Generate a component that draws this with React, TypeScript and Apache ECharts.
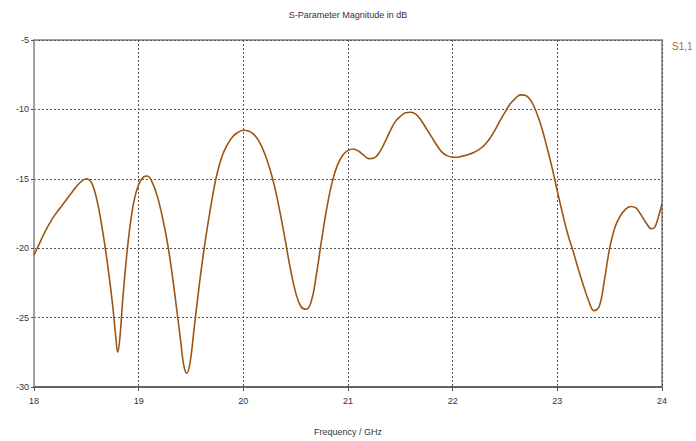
import React, { useEffect, useRef } from "react";
import * as echarts from "echarts";

const freqs = [
  18.0, 18.05, 18.1, 18.15, 18.2, 18.25, 18.3, 18.35, 18.4, 18.45, 18.5, 18.55, 18.6, 18.65, 18.7, 18.75, 18.78, 18.8, 18.82, 18.85, 18.9, 18.95,
  19.0, 19.05, 19.08, 19.12, 19.18, 19.25, 19.3, 19.35, 19.4, 19.43, 19.46, 19.49, 19.53, 19.58, 19.63, 19.7, 19.75, 19.8, 19.85, 19.9, 19.95,
  20.0, 20.05, 20.1, 20.15, 20.2, 20.25, 20.3, 20.35, 20.4, 20.45, 20.5, 20.55, 20.6, 20.65, 20.7, 20.75, 20.8, 20.85, 20.9, 20.95,
  21.0, 21.05, 21.1, 21.15, 21.2, 21.25, 21.3, 21.35, 21.4, 21.45, 21.5, 21.55, 21.6, 21.65, 21.7, 21.75, 21.8, 21.85, 21.9, 21.95,
  22.0, 22.05, 22.1, 22.15, 22.2, 22.25, 22.3, 22.35, 22.4, 22.45, 22.5, 22.55, 22.6, 22.65, 22.7, 22.75, 22.8, 22.85, 22.9, 22.95,
  23.0, 23.05, 23.1, 23.15, 23.2, 23.25, 23.3, 23.35, 23.4, 23.45, 23.5, 23.55, 23.6, 23.65, 23.7, 23.75, 23.8, 23.85, 23.9, 23.93, 23.96, 24.0,
];

const s11 = [
  -20.5, -19.7, -18.9, -18.2, -17.6, -17.1, -16.6, -16.1, -15.6, -15.2, -15.0, -15.3, -16.5, -18.5, -21.0, -24.0, -26.3, -27.5, -26.5, -23.5, -19.5, -16.8,
  -15.4, -14.85, -14.8, -15.1, -16.3, -18.6, -20.8, -23.6, -26.6, -28.4, -29.0, -28.3, -25.8, -22.6, -19.8, -16.5, -14.6, -13.3, -12.5, -11.95, -11.65,
  -11.5, -11.55, -11.8, -12.3, -13.1, -14.2, -15.6, -17.4, -19.4, -21.5, -23.2, -24.2, -24.4, -23.8, -21.8, -19.3, -17.0, -15.2, -14.0, -13.3,
  -12.95, -12.85, -13.0, -13.3, -13.55, -13.5, -13.1, -12.4, -11.6, -10.9, -10.5, -10.25, -10.2, -10.35, -10.8, -11.4, -12.0, -12.6, -13.1, -13.35,
  -13.45, -13.45, -13.35, -13.25, -13.1, -12.9, -12.6, -12.15, -11.55, -10.85, -10.2, -9.6, -9.2, -8.95, -9.0, -9.4, -10.2, -11.3, -12.7, -14.2,
  -15.9, -17.5, -19.0, -20.2, -21.5, -22.7, -23.8, -24.5, -24.2, -22.3, -20.0, -18.5, -17.7, -17.2, -17.0, -17.1, -17.6, -18.2, -18.6, -18.5, -17.9, -16.8,
];

const xTicks = { min: 18, max: 24, interval: 1 };
const yTicks = { min: -30, max: -5, interval: 5 };

const seriesName = "S1,1";
const FONT = "Liberation Sans";

export default function App() {
  const ref = useRef<HTMLDivElement>(null);
  useEffect(() => {
    if (!ref.current) return;
    const chart = echarts.init(ref.current, null, { renderer: "svg" });
    chart.setOption({
      animation: false,
      backgroundColor: "#ffffff",
      title: {
        text: "S-Parameter Magnitude in dB",
        left: "center",
        top: 5,
        textStyle: { fontFamily: FONT, fontSize: 9, fontWeight: "normal", color: "#333" },
      },
      graphic: [
        {
          type: "text",
          left: 672,
          top: 41,
          style: { text: seriesName, fontFamily: FONT, fontSize: 10, fill: "#b36a2a" },
        },
      ],
      grid: {
        left: 34,
        right: 34,
        top: 40,
        bottom: 49,
        show: true,
        borderColor: "#a0a0a0",
        borderWidth: 2,
      },
      xAxis: {
        type: "value",
        min: xTicks.min,
        max: xTicks.max,
        interval: xTicks.interval,
        name: "Frequency / GHz",
        nameLocation: "middle",
        nameGap: 40,
        nameTextStyle: { fontFamily: FONT, fontSize: 9, color: "#333" },
        axisLine: { show: true, lineStyle: { color: "#555", width: 1.5 } },
        axisTick: { show: true, length: 4, lineStyle: { color: "#555" } },
        axisLabel: { fontFamily: FONT, fontSize: 9, color: "#333", margin: 9 },
        splitLine: { show: true, lineStyle: { color: "#555", type: [2, 2], width: 1 } },
      },
      yAxis: {
        type: "value",
        min: yTicks.min,
        max: yTicks.max,
        interval: yTicks.interval,
        axisLine: { show: true, lineStyle: { color: "#a0a0a0", width: 2 } },
        axisTick: { show: true, length: 3, lineStyle: { color: "#555" } },
        axisLabel: { fontFamily: FONT, fontSize: 9, color: "#333", margin: 5 },
        splitLine: { show: true, lineStyle: { color: "#555", type: [2, 2], width: 1 } },
      },
      series: [
        {
          name: seriesName,
          type: "line",
          data: freqs.map((f, i) => [f, s11[i]]),
          smooth: 0.4,
          showSymbol: false,
          symbol: "none",
          lineStyle: { color: "#9c5512", width: 1.6 },
        },
      ],
    });
    return () => chart.dispose();
  }, []);
  return (
    <div
      ref={ref}
      style={{ position: "absolute", left: 0, top: 0, width: 696, height: 441 }}
    />
  );
}
